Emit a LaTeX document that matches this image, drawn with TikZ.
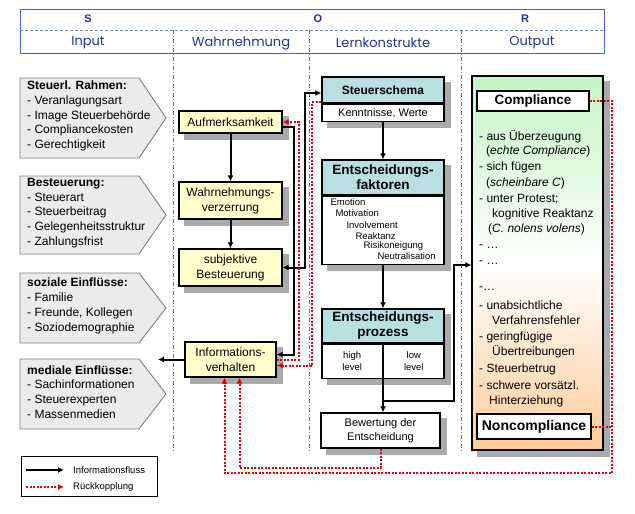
\documentclass[tikz,border=0pt]{standalone}
\usepackage{fontspec}
\setmainfont{Liberation Sans}
\newfontfamily\headfont{Poppins}
\usetikzlibrary{arrows.meta,calc,backgrounds}
\definecolor{hdblue}{RGB}{30,50,150}
\definecolor{hdframe}{RGB}{70,100,200}
\definecolor{sepblue}{RGB}{80,110,170}
\definecolor{wahrfill}{RGB}{255,255,204}
\definecolor{lkfill}{RGB}{185,223,226}
\definecolor{infill}{RGB}{235,235,235}
\definecolor{inframe}{RGB}{128,128,128}
\definecolor{fbred}{RGB}{230,0,0}
\definecolor{outgreen}{RGB}{196,245,196}
\definecolor{outorange}{RGB}{255,204,153}
\definecolor{shadowgray}{RGB}{170,170,170}
\newcommand{\sz}[2]{\fontsize{#1}{#2}\selectfont}

\begin{document}
\begin{tikzpicture}[x=1pt,y=-1pt,>={Latex[length=6pt,width=6pt]},
  sep/.style={sepblue,line width=0.7pt,dash pattern=on 4pt off 2pt on 1pt off 2pt},
  inbox/.style={draw=inframe,fill=infill,line width=0.9pt},
  intext/.style={anchor=west,align=left,font=\sz{12}{14.8}},
  wahr/.style={draw,line width=1.3pt,fill=wahrfill,align=center,font=\sz{12}{15},minimum width=103},
  lkhead/.style={draw,line width=1.3pt,fill=lkfill,align=center,font=\bfseries\sz{13.5}{15},minimum width=122},
  lkbody/.style={draw,line width=1.3pt,fill=white,align=center,font=\sz{11}{14},minimum width=122},
  small/.style={font=\sz{9.5}{12},align=center},
  outtext/.style={anchor=west,font=\sz{12}{14}},
  tag/.style={draw,line width=1.3pt,fill=white,font=\bfseries\sz{13.5}{15}},
  shadowbox/.style={fill=shadowgray},
  flow/.style={draw,line width=2pt,->},
  fback/.style={draw=fbred,line width=2pt,dash pattern=on 2pt off 1.5pt,->}]
\tikzstyle{every node}+=[inner sep=0pt]
\useasboundingbox (0,0) rectangle (635,514);

% header S-O-R
\draw[hdframe,line width=1pt] (20,9) rectangle (604,53);
\draw[hdframe!80,line width=0.8pt,dash pattern=on 3pt off 2pt] (20,30) -- (604,30);
\foreach \x in {173,309,461}
  \draw[sep] (\x,30) -- (\x,453);
\node[text=hdblue,font=\bfseries\sz{11}{13}] (S) at (88,19) {S};
\node[text=hdblue,font=\bfseries\sz{11}{13}] (O) at (318,19) {O};
\node[text=hdblue,font=\bfseries\sz{11}{13}] (R) at (525,19) {R};
\node[text=hdblue,font=\headfont\sz{13}{15}] (input) at (88,43) {Input};
\node[text=hdblue,font=\headfont\sz{13}{15}] (wahrn) at (241,43) {Wahrnehmung};
\node[text=hdblue,font=\headfont\sz{13}{15}] (lern) at (383,43) {Lernkonstrukte};
\node[text=hdblue,font=\headfont\sz{13}{15}] (output) at (532,43) {Output};

% Input
\draw[inbox] (20,78) -- (139,78) -- (166,118) -- (139,158) -- (20,158) -- cycle;
\node[intext] (rahmen) at (27,116) {\textbf{Steuerl. Rahmen:}\\- Veranlagungsart\\- Image Steuerbehörde\\- Compliancekosten\\- Gerechtigkeit};
\draw[inbox] (20,176) -- (139,176) -- (166,215) -- (139,254) -- (20,254) -- cycle;
\node[intext] (besteuer) at (27,213) {\textbf{Besteuerung:}\\- Steuerart\\- Steuerbeitrag\\- Gelegenheitsstruktur\\- Zahlungsfrist};
\draw[inbox] (20,273) -- (139,273) -- (166,308) -- (139,343) -- (20,343) -- cycle;
\node[intext] (sozial) at (27,306) {\textbf{soziale Einflüsse:}\\- Familie\\- Freunde, Kollegen\\- Soziodemographie};
\draw[inbox] (20,359) -- (139,359) -- (166,394) -- (139,429) -- (20,429) -- cycle;
\node[intext] (medial) at (27,392) {\textbf{mediale Einflüsse:}\\- Sachinformationen\\- Steuerexperten\\- Massenmedien};
\coordinate (medin) at (158,359.5);

% Wahrnehmung
\node[wahr,minimum height=22] (aufm) at (230.5,122) {Aufmerksamkeit};
\node[wahr,minimum height=37] (verz) at (230.5,200.5) {Wahrnehmungs-\\verzerrung};
\node[wahr,minimum height=37] (subj) at (230.5,267.5) {subjektive\\Besteuerung};
\node[wahr,minimum width=91,minimum height=35] (info) at (230.5,359.5) {Informations-\\verhalten};

% Lernkonstrukte
\node[lkhead,minimum height=26,font=\bfseries\sz{12}{14}] (schema) at (383,90) {Steuerschema};
\node[lkbody,minimum height=17,anchor=north] (schemab) at (schema.south) {Kenntnisse, Werte};
\node[lkhead,minimum height=35] (fakt) at (383,177.5) {Entscheidungs-\\faktoren};
\node[lkbody,minimum height=68,anchor=north] (faktb) at (fakt.south) {};
\foreach \dx/\dy/\w [count=\k] in {9/6/Emotion,14/17/Motivation,25/29/Involvement,34/40/Reaktanz,42/50/Risikoneigung,56/60/Neutralisation}
  \node[small,anchor=west] (fak\k) at ($(faktb.north west)+(\dx,\dy)$) {\w};
\node[lkhead,minimum height=34] (proz) at (383,326) {Entscheidungs-\\prozess};
\node[lkbody,minimum height=34,anchor=north] (prozb) at (proz.south) {};
\draw[line width=1.3pt] (prozb.north) -- (prozb.south);
\node[small] (high) at ($(prozb.west)!0.5!(prozb.center)$) {high\\level};
\node[small] (low) at ($(prozb.center)!0.5!(prozb.east)$) {low\\level};
\node[lkbody,minimum width=119,minimum height=35] (bew) at (380.5,430.5) {Bewertung der\\Entscheidung};

% Output
\node[draw,line width=1.3pt,top color=outgreen,bottom color=outorange,middle color=white,minimum width=131,minimum height=374] (out) at (537.5,263) {};
\node[tag,minimum width=112,minimum height=20] (comp) at (533,101) {Compliance};
\node[tag,minimum width=114,minimum height=25,font=\bfseries\sz{14}{16}] (noncomp) at (534,426.5) {Noncompliance};
\foreach \x/\y/\lbl [count=\k] in {
  479/137/{- aus Überzeugung},
  486/151/{(\textit{echte Compliance})},
  479/167/{- sich fügen},
  486/183/{(\textit{scheinbare C})},
  479/199/{- unter Protest;},
  492/214/{kognitive Reaktanz},
  488/229/{(\textit{C. nolens volens})},
  479/247/{- …},
  479/263/{- …},
  479/289/{-…},
  479/305/{- unabsichtliche},
  492/320/{Verfahrensfehler},
  479/337/{- geringfügige},
  492/352/{Übertreibungen},
  479/369/{- Steuerbetrug},
  479/385/{- schwere vorsätzl.},
  489/401/{Hinterziehung}}
  \node[outtext] (item\k) at (\x,\y) {\lbl};

% shadows behind the boxes
\begin{scope}[on background layer]
\foreach \n/\m in {aufm/aufm,verz/verz,subj/subj,info/info,schema/schemab,fakt/faktb,proz/prozb,bew/bew,out/out}
  \fill[shadowbox] ([shift={(6pt,-6pt)}]\m.south west) rectangle ([shift={(6pt,-6pt)}]\n.north east);
\end{scope}

% Informationsfluss
\draw[flow] (aufm) -- (verz);
\draw[flow] (verz) -- (subj);
\draw[flow] ([yshift=-5pt]aufm.east) -- ++(11,0) |- ([yshift=5pt]info.east);
\draw[flow,<->] (subj.east) -- ++(22,0) |- ([yshift=-3pt]schema.west);
\draw[flow] (info.west) -- (medin);
\draw[flow] (schemab) -- (fakt);
\draw[flow] (faktb) -- (proz);
\draw[flow] (prozb) -- (prozb |- bew.north);
\coordinate (ep) at ([yshift=-22pt]prozb.south);
\coordinate (outin) at (out.west |- faktb.south);
\draw[flow] (ep) -| ([xshift=-17pt]outin) -- (outin);

% Rueckkopplung
\draw[fback] (info.east) -| ([xshift=16pt]aufm.east) -- (aufm.east);
\draw[fback] ([yshift=-12pt]schema.west) -- ++(-9,0) |- ([yshift=-6pt]info.east);
\coordinate (loop) at (612,473);
\draw[fback] (comp.east) -| (loop) -| ([xshift=-6pt]info.south);
\draw[fback,-] (noncomp.east) -- (noncomp.east -| loop);
\draw[fback] (bew.south) -- ++(0,19) -| ([xshift=9pt]info.south);

% legend
\node[draw,line width=0.9pt,minimum width=136,minimum height=40] (legend) at (89,476) {};
\node[anchor=west,font=\sz{9.5}{11}] (lgflow) at (73,470) {Informationsfluss};
\node[anchor=west,font=\sz{9.5}{11}] (lgback) at (73,487) {Rückkopplung};
\draw[flow] ([xshift=-47pt]lgflow.west) -- ([xshift=-9pt]lgflow.west);
\draw[fback] ([xshift=-47pt]lgback.west) -- ([xshift=-9pt]lgback.west);
\end{tikzpicture}
\end{document}
